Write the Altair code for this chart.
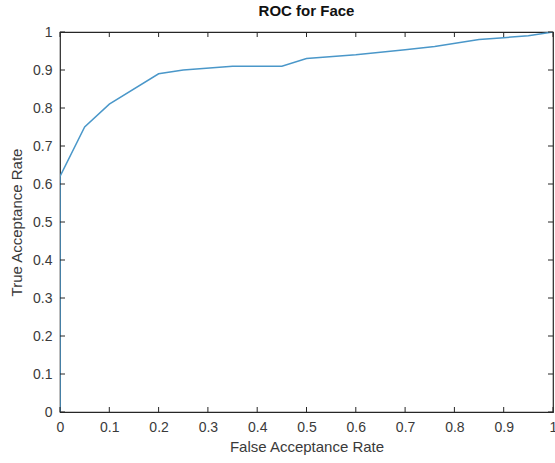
import altair as alt
import pandas as pd

far = [0.0, 0.0, 0.05, 0.1, 0.2, 0.25, 0.35, 0.45, 0.5, 0.6, 0.7, 0.76, 0.85, 0.9, 0.95, 1.0]
tar = [0.0, 0.62, 0.75, 0.81, 0.89, 0.90, 0.91, 0.91, 0.93, 0.94, 0.953, 0.962, 0.98, 0.985, 0.99, 1.0]
ticks = [round(i * 0.1, 1) for i in range(11)]

df = pd.DataFrame({"far": far, "tar": tar, "order": list(range(len(far)))})
tdf = pd.DataFrame({"t": ticks})

W, H = 493, 380
FONT = "Liberation Sans"
AX = "#262626"
LAB = "#3a3a3a"

xs = alt.Scale(domain=[0, 1], nice=False)
ys = alt.Scale(domain=[0, 1], nice=False)

common = dict(values=ticks, format="~g", grid=False, ticks=False, domain=False,
              labelPadding=8, labelFontSize=14, labelColor=LAB, titleFontSize=15,
              titleColor=LAB, titleFontWeight="normal", labelFont=FONT,
              titleFont=FONT, labelOverlap=False, labelFlush=False)
xaxis = alt.Axis(titlePadding=5, **common)
yaxis = alt.Axis(titlePadding=8, **common)
XT = "False Acceptance Rate"
YT = "True Acceptance Rate"

line = alt.Chart(df).mark_line(color="#4a97c9", strokeWidth=1.5, clip=True).encode(
    x=alt.X("far:Q", scale=xs, title=XT, axis=xaxis),
    y=alt.Y("tar:Q", scale=ys, title=YT, axis=yaxis),
    order="order:O",
)

tl = 5
bottom = alt.Chart(tdf).mark_rule(color=AX, strokeWidth=1).encode(
    x=alt.X("t:Q", scale=xs, title=XT, axis=xaxis), y=alt.value(H), y2=alt.value(H - tl))
top = alt.Chart(tdf).mark_rule(color=AX, strokeWidth=1).encode(
    x=alt.X("t:Q", scale=xs, title=XT, axis=xaxis), y=alt.value(0), y2=alt.value(tl))
left = alt.Chart(tdf).mark_rule(color=AX, strokeWidth=1).encode(
    y=alt.Y("t:Q", scale=ys, title=YT, axis=yaxis), x=alt.value(0), x2=alt.value(tl))
right = alt.Chart(tdf).mark_rule(color=AX, strokeWidth=1).encode(
    y=alt.Y("t:Q", scale=ys, title=YT, axis=yaxis), x=alt.value(W), x2=alt.value(W - tl))

chart = alt.layer(line, bottom, top, left, right).properties(
    width=W, height=H,
    title=alt.TitleParams("ROC for Face", fontSize=15, font=FONT, fontWeight="bold",
                          color="#111111", offset=6),
    autosize=alt.AutoSizeParams(type="none"),
    padding={"left": 60, "top": 32, "right": 2, "bottom": 51},
    background="white",
).configure_view(stroke=AX, strokeWidth=1.2)

chart.save("out.html", embed_options={"renderer": "svg", "actions": False})
